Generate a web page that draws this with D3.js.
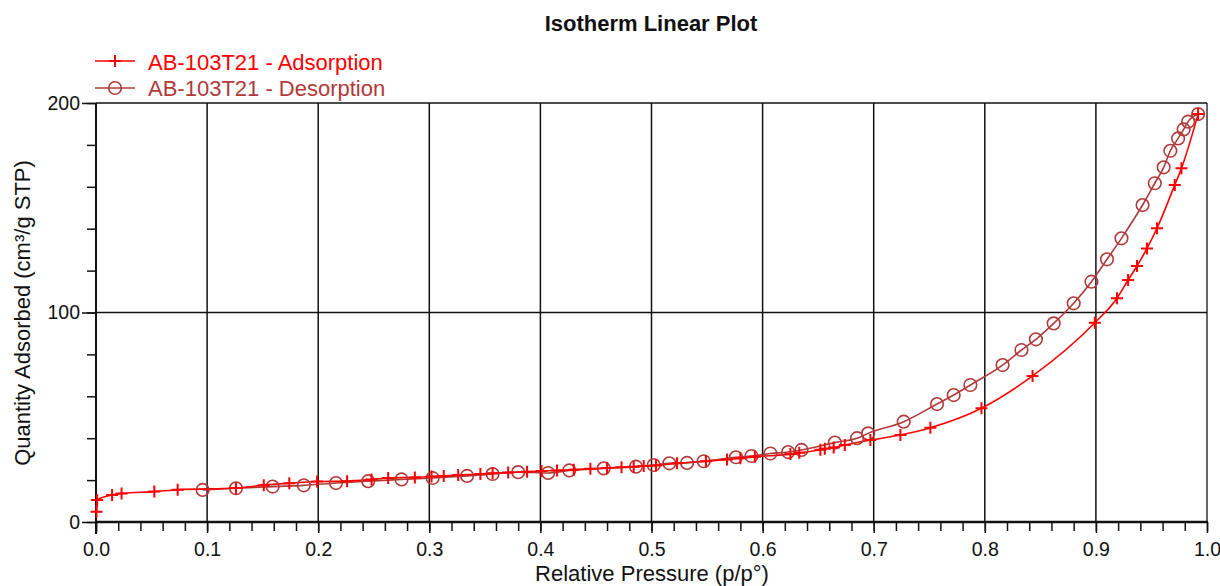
<!DOCTYPE html>
<html><head><meta charset="utf-8">
<script src="https://cdn.jsdelivr.net/npm/d3@7"></script>
<style>body{margin:0;background:#fff}svg{display:block}text{font-family:"Liberation Sans",Arial,sans-serif}</style>
</head><body><svg id="c" width="1220" height="586"></svg>
<script>
const title = "Isotherm Linear Plot";
const xTitle = "Relative Pressure (p/p°)";
const yTitle = "Quantity Adsorbed (cm³/g STP)";
const seriesNames = ["AB-103T21 - Adsorption", "AB-103T21 - Desorption"];
const xTicks = [0,0.1,0.2,0.3,0.4,0.5,0.6,0.7,0.8,0.9,1.0];
const yTicks = [0,100,200];

const adsP = [0.0005,0.001,0.0145,0.023,0.0525,0.0735,0.126,0.151,0.174,0.199,0.226,0.248,0.263,0.287,0.302,0.313,0.326,0.346,0.357,0.371,0.388,0.401,0.415,0.430,0.445,0.460,0.473,0.484,0.493,0.504,0.523,0.549,0.568,0.580,0.593,0.625,0.633,0.652,0.656,0.664,0.674,0.697,0.724,0.751,0.797,0.843,0.899,0.919,0.929,0.937,0.946,0.955,0.971,0.977,0.992];
const adsQ = [4.9,10.5,12.9,13.6,14.5,15.4,16.2,17.6,18.5,19.3,19.5,20.3,21.0,21.3,21.7,22.0,22.4,22.9,23.3,23.6,24.0,24.3,24.6,25.0,25.4,25.8,26.1,26.4,26.7,27.0,28.0,29.0,29.8,30.4,31.1,32.4,33.0,34.5,35.0,35.6,36.7,39.1,41.5,45.0,54.3,69.7,95.1,106.8,115.5,122.2,130.6,140.2,160.9,168.8,194.7];

const desP = [0.096,0.126,0.159,0.187,0.216,0.245,0.275,0.303,0.334,0.357,0.380,0.407,0.426,0.457,0.486,0.502,0.516,0.532,0.547,0.576,0.590,0.607,0.623,0.635,0.665,0.685,0.695,0.727,0.757,0.772,0.787,0.816,0.833,0.846,0.862,0.880,0.896,0.910,0.923,0.942,0.953,0.961,0.967,0.974,0.979,0.983,0.992];
const desQ = [15.3,16.1,16.9,17.5,18.6,19.5,20.3,21.0,22.0,22.9,23.8,23.4,24.6,25.6,26.4,27.2,28.0,28.2,29.0,30.9,31.5,32.7,33.4,34.4,37.9,40.0,42.3,47.9,56.3,60.6,65.4,74.9,82.1,87.2,94.8,104.4,114.7,125.4,135.4,151.3,161.7,169.3,177.2,183.1,187.4,191.1,194.7];

const adsColor = "#ff0000", desColor = "#b03a3a";
const svg = d3.select("#c");
const L = 96, R = 1207, T = 103, B = 522;
const x = d3.scaleLinear().domain([0,1]).range([L,R]);
const y = d3.scaleLinear().domain([0,200]).range([B,T]);
const tickFont = 19.5;

// grid
const g = svg.append("g");
g.selectAll("line.vx").data(xTicks).join("line")
  .attr("x1",d=>x(d)).attr("x2",d=>x(d)).attr("y1",T).attr("y2",B)
  .attr("stroke",d=>d===1?"#333":"#111").attr("stroke-width",1.5);
g.selectAll("line.hy").data(yTicks).join("line")
  .attr("x1",L).attr("x2",R).attr("y1",d=>y(d)).attr("y2",d=>y(d))
  .attr("stroke","#111").attr("stroke-width",1.5);

// axes
const xMinor = d3.range(0,1.0001,0.02);
const yMinor = d3.range(0,200.001,20);
const xAx = svg.append("g").attr("transform",`translate(0,${B})`);
xAx.call(d3.axisBottom(x).tickValues(xMinor).tickSize(9).tickFormat(""))
  .call(a=>a.select(".domain").remove())
  .call(a=>a.selectAll("line").attr("stroke","#111").attr("stroke-width",1.5));
const xAx2 = svg.append("g").attr("transform",`translate(0,${B})`);
xAx2.call(d3.axisBottom(x).tickValues(xTicks).tickSize(11).tickPadding(9).tickFormat(d3.format(".1f")))
  .call(a=>a.select(".domain").remove())
  .call(a=>a.selectAll("line").attr("stroke","#111").attr("stroke-width",1.5))
  .call(a=>a.selectAll("text").attr("font-size",tickFont).attr("fill","#111").attr("font-family","Liberation Sans, Arial, sans-serif"));
const yAx = svg.append("g").attr("transform",`translate(${L},0)`);
yAx.call(d3.axisLeft(y).tickValues(yMinor).tickSize(9).tickFormat(""))
  .call(a=>a.select(".domain").remove())
  .call(a=>a.selectAll("line").attr("stroke","#111").attr("stroke-width",1.5));
const yAx2 = svg.append("g").attr("transform",`translate(${L},0)`);
yAx2.call(d3.axisLeft(y).tickValues(yTicks).tickSize(14).tickPadding(2).tickFormat(d3.format("d")))
  .call(a=>a.select(".domain").remove())
  .call(a=>a.selectAll("line").attr("stroke","#111").attr("stroke-width",1.5))
  .call(a=>a.selectAll("text").attr("font-size",tickFont).attr("fill","#111").attr("font-family","Liberation Sans, Arial, sans-serif"));
svg.append("line").attr("x1",L).attr("x2",L).attr("y1",T).attr("y2",B+12).attr("stroke","#111").attr("stroke-width",2);
svg.append("line").attr("x1",L-1).attr("x2",R+1).attr("y1",B).attr("y2",B).attr("stroke","#111").attr("stroke-width",2.5);

// series
const ads = adsP.map((p,i)=>[p,adsQ[i]]);
const des = desP.map((p,i)=>[p,desQ[i]]);
const line = d3.line().x(d=>x(d[0])).y(d=>y(d[1])).curve(d3.curveMonotoneX);
svg.append("path").datum(des).attr("d",line).attr("fill","none").attr("stroke",desColor).attr("stroke-width",1.6);
svg.append("path").datum(ads).attr("d",line).attr("fill","none").attr("stroke",adsColor).attr("stroke-width",1.6);
svg.append("g").selectAll("circle").data(des).join("circle")
  .attr("cx",d=>x(d[0])).attr("cy",d=>y(d[1])).attr("r",6.3)
  .attr("fill","none").attr("stroke",desColor).attr("stroke-width",1.6);
const plus = (sel,s)=>sel.attr("d",`M${-s},0H${s}M0,${-s}V${s}`);
svg.append("g").selectAll("path").data(ads).join("path")
  .attr("transform",d=>`translate(${x(d[0])},${y(d[1])})`)
  .call(plus,6).attr("fill","none").attr("stroke",adsColor).attr("stroke-width",2);

// title & axis titles
svg.append("text").attr("x",651).attr("y",31).attr("text-anchor","middle")
  .attr("font-size",22).attr("font-weight","bold").attr("fill","#111").text(title);
svg.append("text").attr("x",652).attr("y",580.5).attr("text-anchor","middle")
  .attr("font-size",22).attr("fill","#111").text(xTitle);
svg.append("text").attr("transform","translate(30,313) rotate(-90)").attr("text-anchor","middle")
  .attr("font-size",22).attr("fill","#111").text(yTitle);

// legend
const leg = [{name:seriesNames[0],c:adsColor,m:"plus",y:61,ty:69.5},{name:seriesNames[1],c:desColor,m:"circle",y:88,ty:96}];
leg.forEach(l=>{
  svg.append("line").attr("x1",95).attr("x2",135).attr("y1",l.y).attr("y2",l.y).attr("stroke",l.c).attr("stroke-width",1.6);
  if(l.m==="plus") svg.append("path").attr("transform",`translate(115,${l.y})`).call(plus,6).attr("stroke",l.c).attr("stroke-width",2);
  else svg.append("circle").attr("cx",115).attr("cy",l.y).attr("r",6.3).attr("fill","none").attr("stroke",l.c).attr("stroke-width",1.6);
  svg.append("text").attr("x",148).attr("y",l.ty).attr("font-size",22).attr("fill",l.c).text(l.name);
});
</script></body></html>
